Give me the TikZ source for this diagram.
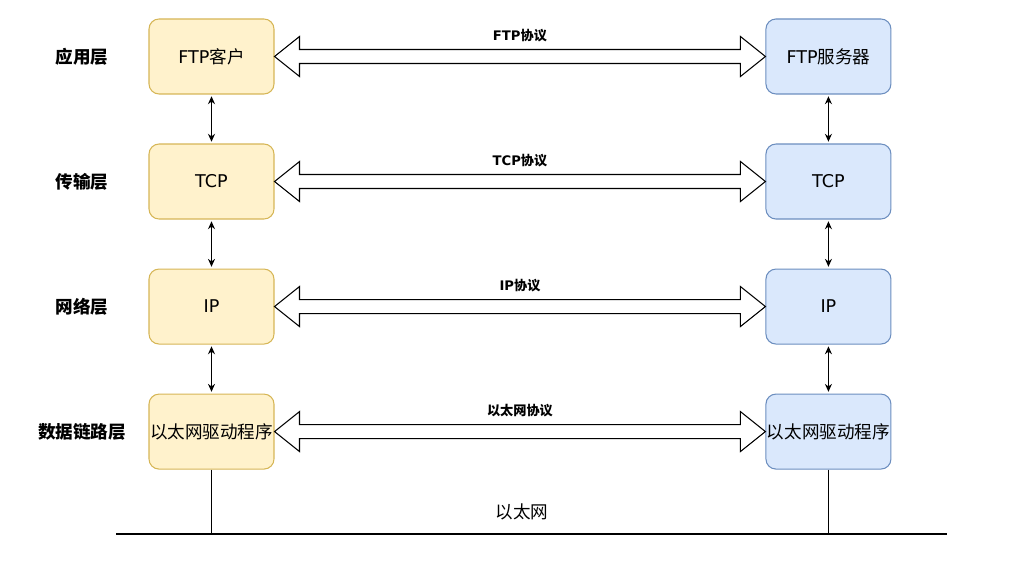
\documentclass[tikz,border=0pt]{standalone}
\usepackage{fontspec}
\setmainfont{DejaVu Sans}
\newfontfamily\cjk{Noto Sans CJK SC}
\usetikzlibrary{arrows.meta, positioning, calc}

% hollow double arrow between two peer boxes
\newcommand{\protarrow}[2]{%
  \draw[flex] (#1.east) -- ++(25,20) -- ++(0,-13) -- ($(#2.west)+(-25,7)$) -- ++(0,13)
    -- (#2.west) -- ++(-25,-20) -- ++(0,13) -- ($(#1.east)+(25,-7)$) -- ++(0,-13) -- cycle;}

\begin{document}
\begin{tikzpicture}[x=0.02cm, y=0.02cm,
  box/.style={rectangle, rounded corners=0.2cm, draw, line width=0.6pt, minimum width=2.5cm, minimum height=1.5cm, inner sep=0pt, align=center, font=\fontsize{10}{12}\selectfont},
  client/.style={box, fill={rgb,255:red,255;green,242;blue,204}, draw={rgb,255:red,214;green,182;blue,86}},
  server/.style={box, fill={rgb,255:red,218;green,232;blue,252}, draw={rgb,255:red,108;green,142;blue,191}},
  layer/.style={font=\cjk\bfseries\fontsize{10}{12}\selectfont},
  proto/.style={font=\bfseries\fontsize{7.5}{9}\selectfont},
  flex/.style={draw=black, fill=white, line width=0.6pt, line join=miter},
  arr/.style={{Stealth[length=4.5pt,width=4pt]}-{Stealth[length=4.5pt,width=4pt]}, line width=0.6pt, shorten <=1pt, shorten >=1pt},
  wire/.style={line width=0.7pt}
]
\useasboundingbox (0,0) rectangle (1020,563);

% left host
\node[client] (ftpc) at (211.5,506.5) {FTP{\cjk 客户}};
\node[client, below=0.98cm of ftpc] (tcpc) {TCP};
\node[client, below=0.98cm of tcpc] (ipc) {IP};
\node[client, below=0.98cm of ipc] (drvc) {\cjk 以太网驱动程序};

% right host
\node[server, right=9.82cm of ftpc] (ftps) {FTP{\cjk 服务器}};
\node[server, right=9.82cm of tcpc] (tcps) {TCP};
\node[server, right=9.82cm of ipc] (ips) {IP};
\node[server, right=9.82cm of drvc] (drvs) {\cjk 以太网驱动程序};

% layer names
\coordinate (lx) at (82,0);
\node[layer] (lapp) at (lx |- ftpc) {应用层};
\node[layer] (ltrn) at (lx |- tcpc) {传输层};
\node[layer] (lnet) at (lx |- ipc) {网络层};
\node[layer] (llnk) at (lx |- drvc) {数据链路层};

% peer protocols
\protarrow{ftpc}{ftps}
\protarrow{tcpc}{tcps}
\protarrow{ipc}{ips}
\protarrow{drvc}{drvs}
\node[proto] (pftp) at ($(ftpc.east)!0.5!(ftps.west)+(0,20.5)$) {FTP{\cjk 协议}};
\node[proto] (ptcp) at ($(tcpc.east)!0.5!(tcps.west)+(0,20.5)$) {TCP{\cjk 协议}};
\node[proto] (pip) at ($(ipc.east)!0.5!(ips.west)+(0,20.5)$) {IP{\cjk 协议}};
\node[proto] (peth) at ($(drvc.east)!0.5!(drvs.west)+(0,20.5)$) {\cjk 以太网协议};

% stack arrows
\draw[arr] (ftpc) -- (tcpc);
\draw[arr] (tcpc) -- (ipc);
\draw[arr] (ipc) -- (drvc);
\draw[arr] (ftps) -- (tcps);
\draw[arr] (tcps) -- (ips);
\draw[arr] (ips) -- (drvs);

% ethernet
\coordinate (eL) at (116,29);
\coordinate (eR) at (947,29);
\draw[wire] (eL) -- (eR);
\draw[wire] (drvc.south) -- (drvc.south |- eL);
\draw[wire] (drvs.south) -- (drvs.south |- eL);
\node[font=\cjk\fontsize{10}{12}\selectfont] (eth) at (522,51) {以太网};
\end{tikzpicture}
\end{document}
